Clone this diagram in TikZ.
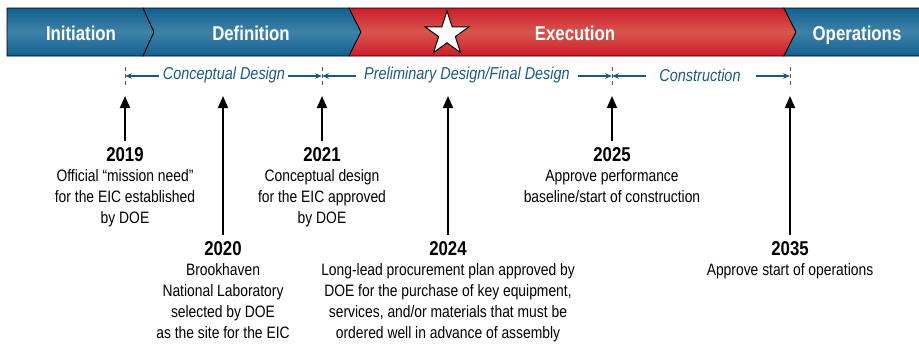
\documentclass[tikz,border=0pt]{standalone}
\usepackage{fontspec}
\setmainfont{Liberation Sans}[FakeStretch=0.84]
\usepackage{tikz}
\usetikzlibrary{positioning,shapes.geometric,arrows.meta}
\usepackage{xcolor}

\definecolor{bandblue}{HTML}{11608F}
\definecolor{bandbluelt}{HTML}{4082A8}
\definecolor{bandred}{HTML}{CB1D2C}
\definecolor{bandredlt}{HTML}{D9554C}
\definecolor{dimblue}{HTML}{1B5A80}

\begin{document}
\begin{tikzpicture}[x=1pt,y=-1pt,
        blueband/.style={draw=black, line width=0.8pt, top color=bandblue, bottom color=bandblue, middle color=bandbluelt},
        redband/.style={draw=black, line width=0.8pt, top color=bandred, bottom color=bandred, middle color=bandredlt},
        phaselbl/.style={text=white, anchor=base, font=\fontsize{20}{24}\selectfont\bfseries},
        tick/.style={draw=black!65, dash pattern=on 4pt off 3pt, line width=0.8pt},
        dim/.style={-{Stealth[length=7pt,width=5.5pt]}, draw=dimblue, line width=1.1pt},
        dimlbl/.style={text=dimblue, font=\fontsize{17.2}{20}\selectfont\itshape},
        mile/.style={-{Triangle[length=12pt,width=10pt]}, line width=1.8pt, shorten <=5pt},
        year/.style={font=\fontsize{20}{24}\selectfont\bfseries, inner sep=2pt},
        desc/.style={align=center, font=\fontsize{16.5}{21}\selectfont, inner sep=0pt}]
        \useasboundingbox (0,0) rectangle (919,343);

        % phase band
        \draw[blueband] (7,8)--(143,8)--(154,32)--(143,56)--(7,56)--cycle;
        \draw[blueband] (143,8)--(349,8)--(361,32)--(349,56)--(143,56)--(154,32)--cycle;
        \draw[redband] (349,8)--(784,8)--(796,32)--(784,56)--(349,56)--(361,32)--cycle;
        \draw[blueband] (784,8)--(921,8)--(921,56)--(784,56)--(796,32)--cycle;
        \node[phaselbl] (init) at (81,40.5) {Initiation};
        \node[phaselbl] (defn) at (251,40.5) {Definition};
        \node[phaselbl] (exec) at (575,40.5) {Execution};
        \node[phaselbl] (oper) at (857,40.5) {Operations};
        \node[star, star points=5, star point ratio=2.618, draw=black, fill=white, line width=1pt,
              minimum size=46pt, inner sep=0pt] (star) at (447,34) {};

        % design stages
        \draw[tick] (125,67)--(125,88);
        \draw[tick] (322,67)--(322,88);
        \draw[tick] (612,67)--(612,88);
        \draw[tick] (790,67)--(790,88);
        \coordinate (t1) at (125,76);
        \coordinate (t2) at (322,76);
        \coordinate (t3) at (612,76);
        \coordinate (t4) at (790,76);
        \foreach \a/\b in {t1/t2,t2/t3,t3/t4}{
            \draw[dim] ([xshift=34pt]\a)--(\a);
            \draw[dim] ([xshift=-34pt]\b)--(\b);
        }
        \node[dimlbl] (concept) at (224,75) {Conceptual Design};
        \node[dimlbl] (prelim) at (467,75) {Preliminary Design/Final Design};
        \node[dimlbl] (constr) at (700,75) {Construction};

        % milestones
        \coordinate (p19) at (125,96);
        \coordinate (p20) at (223,96);
        \coordinate (p21) at (322,96);
        \coordinate (p24) at (448,96);
        \coordinate (p25) at (612,96);
        \coordinate (p35) at (790,96);
        \node[year] (y19) at (125,155) {2019};
        \node[year] (y20) at (223,249) {2020};
        \node[year] (y21) at (322,155) {2021};
        \node[year] (y24) at (448,249) {2024};
        \node[year] (y25) at (612,155) {2025};
        \node[year] (y35) at (790,249) {2035};
        \node[desc, below=5.5pt of y19] (d19) {Official “mission need”\\for the EIC established\\by DOE};
        \node[desc, below=5.5pt of y20] (d20) {Brookhaven\\National Laboratory\\selected by DOE\\as the site for the EIC};
        \node[desc, below=5.5pt of y21] (d21) {Conceptual design\\for the EIC approved\\by DOE};
        \node[desc, below=5.5pt of y24] (d24) {Long-lead procurement plan approved by\\DOE for the purchase of key equipment,\\services, and/or materials that must be\\ordered well in advance of assembly};
        \node[desc, below=5.5pt of y25] (d25) {Approve performance\\baseline/start of construction};
        \node[desc, below=5.5pt of y35] (d35) {Approve start of operations};
        \draw[mile] (y19)--(p19);
        \draw[mile] (y20)--(p20);
        \draw[mile] (y21)--(p21);
        \draw[mile] (y24)--(p24);
        \draw[mile] (y25)--(p25);
        \draw[mile] (y35)--(p35);
\end{tikzpicture}
\end{document}
